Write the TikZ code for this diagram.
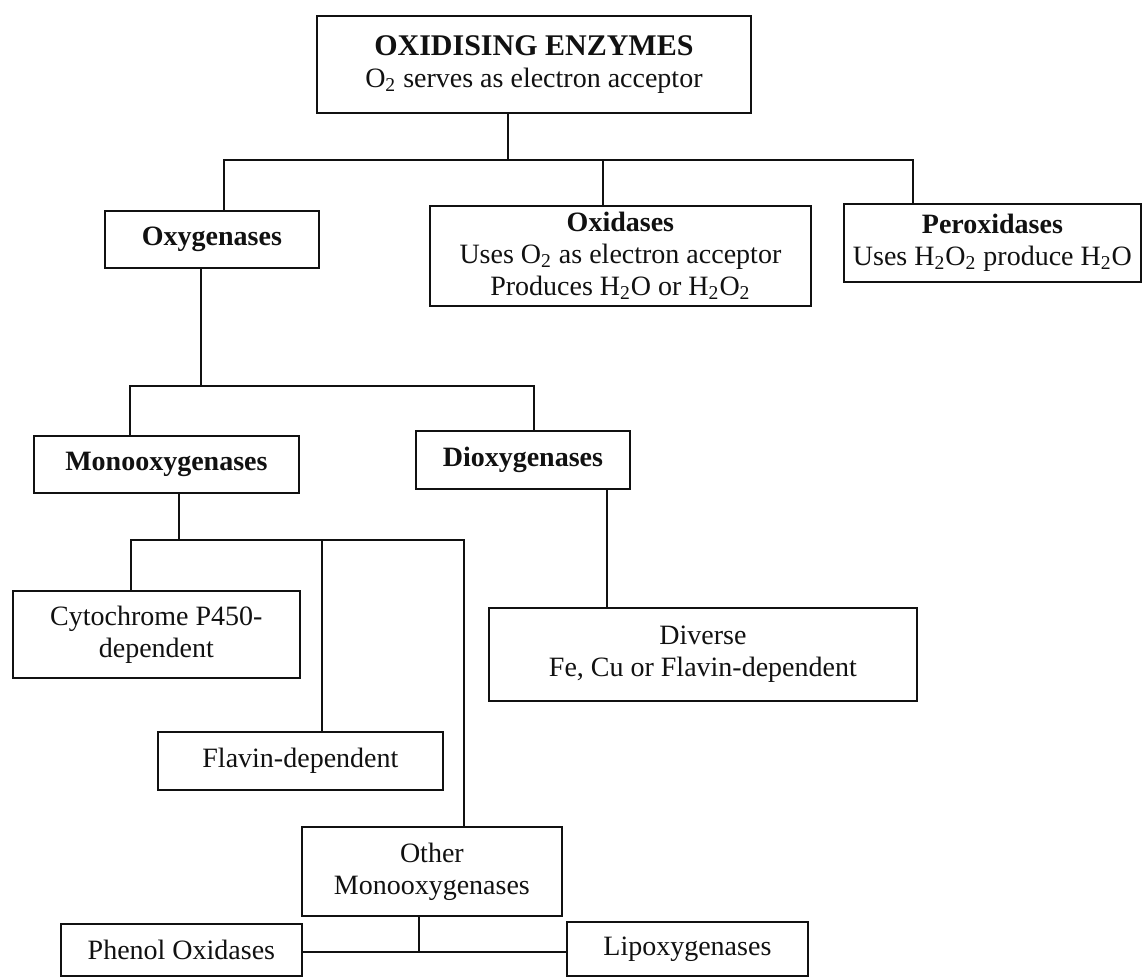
\documentclass[tikz,border=0pt]{standalone}
\usepackage{fontspec}
\setmainfont{Liberation Serif}
\definecolor{enzInk}{HTML}{111111}
\tikzset{
  every picture/.style={font=\fontsize{14}{16}\selectfont, text=enzInk},
  enz box/.style={draw=enzInk, line width=0.9pt, fill=white, align=center,
    anchor=north west, inner sep=2pt},
  enz head/.style={font=\fontsize{14}{16}\selectfont\bfseries},
  enz line/.style={draw=enzInk, line width=0.9pt}
}
\begin{document}
\begin{tikzpicture}[x=0.5pt,y=-0.5pt]
  \useasboundingbox (0,0) rectangle (1147,977);
  % top level
  \node[enz box, minimum width=217pt, minimum height=48.5pt] (root) at (316,15)
    {{\fontsize{15}{17}\selectfont\bfseries OXIDISING ENZYMES}\\O\textsubscript{2} serves as electron acceptor};
  \node[enz box, enz head, minimum width=107pt, minimum height=28.5pt] (oxy) at (104,210) {Oxygenases};
  \node[enz box, minimum width=190.5pt, minimum height=50pt] (oxid) at (429,205)
    {\textbf{Oxidases}\\Uses O\textsubscript{2} as electron acceptor\\Produces H\textsubscript{2}O or H\textsubscript{2}O\textsubscript{2}};
  \node[enz box, minimum width=148.5pt, minimum height=39pt] (perox) at (843,203)
    {\textbf{Peroxidases}\\Uses H\textsubscript{2}O\textsubscript{2} produce H\textsubscript{2}O};
  % oxygenases
  \node[enz box, enz head, minimum width=132.5pt, minimum height=28.5pt] (mono) at (33,435) {Monooxygenases};
  \node[enz box, enz head, minimum width=107pt, minimum height=29pt] (dioxy) at (415,430) {Dioxygenases};
  \node[enz box, minimum width=143.5pt, minimum height=43.5pt] (cyto) at (12,590) {Cytochrome P450-\\dependent};
  \node[enz box, minimum width=142.5pt, minimum height=29pt] (flav) at (157,731) {Flavin-dependent};
  \node[enz box, minimum width=130pt, minimum height=44.5pt] (other) at (301,826) {Other\\Monooxygenases};
  \node[enz box, minimum width=214pt, minimum height=46.5pt] (diverse) at (488,607) {Diverse\\Fe, Cu or Flavin-dependent};
  \node[enz box, minimum width=120.5pt, minimum height=26pt] (phenol) at (60,923) {Phenol Oxidases};
  \node[enz box, minimum width=120.5pt, minimum height=27pt] (lipo) at (566,921) {Lipoxygenases};
  % junctions
  \coordinate (rootJ) at (508,160);
  \coordinate (oxyJ) at (224,160);
  \coordinate (oxidJ) at (603,160);
  \coordinate (peroxJ) at (913,160);
  \coordinate (oxyD) at (201,386);
  \coordinate (monoJ) at (130,386);
  \coordinate (dioxyJ) at (534,386);
  \coordinate (monoD) at (179,540);
  \coordinate (cytoJ) at (131,540);
  \coordinate (flavJ) at (322,540);
  \coordinate (otherJ) at (464,540);
  \coordinate (dioxyD) at (607,500);
  \coordinate (otherD) at (419,952);
  % connectors
  \draw[enz line] (root.south -| rootJ) -- (rootJ);
  \draw[enz line] (oxyJ |- oxy.north) -- (oxyJ) -- (peroxJ) -- (peroxJ |- perox.north);
  \draw[enz line] (oxidJ) -- (oxidJ |- oxid.north);
  \draw[enz line] (oxyD |- oxy.south) -- (oxyD);
  \draw[enz line] (monoJ |- mono.north) -- (monoJ) -- (dioxyJ) -- (dioxyJ |- dioxy.north);
  \draw[enz line] (monoD |- mono.south) -- (monoD);
  \draw[enz line] (cytoJ |- cyto.north) -- (cytoJ) -- (otherJ) -- (otherJ |- other.north);
  \draw[enz line] (flavJ) -- (flavJ |- flav.north);
  \draw[enz line] (dioxyD |- dioxy.south) -- (dioxyD |- diverse.north);
  \draw[enz line] (otherD |- other.south) -- (otherD);
  \draw[enz line] (phenol.east |- otherD) -- (lipo.west |- otherD);
\end{tikzpicture}
\end{document}
